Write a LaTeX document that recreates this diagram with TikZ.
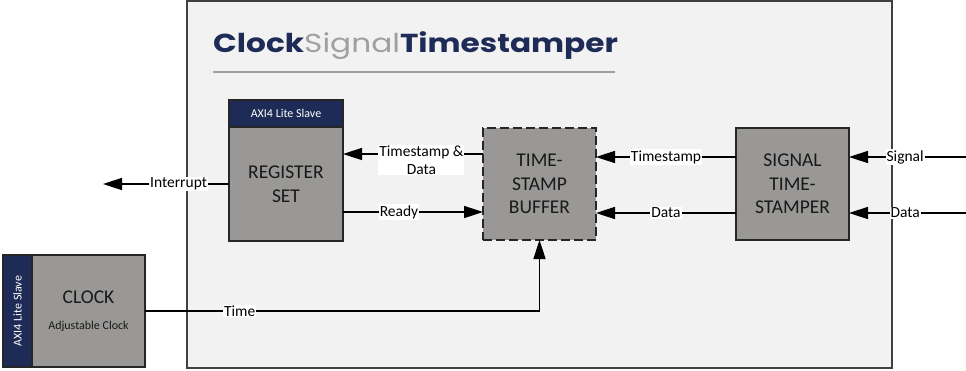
\documentclass[tikz,border=0pt]{standalone}
\usepackage{fontspec}
\setmainfont{Carlito}
\newfontfamily\titlefont{Poppins}[FakeStretch=1.2]
\usetikzlibrary{arrows.meta, positioning, calc}
\definecolor{navyblue}{RGB}{29,43,86}
\definecolor{blockgray}{RGB}{153,152,150}
\definecolor{panelgray}{RGB}{242,242,242}
\definecolor{titlegray}{RGB}{160,160,160}

\tikzset{
  block/.style={draw=black!85, fill=blockgray, line width=2pt, outer sep=0pt,
    minimum width=113pt, minimum height=112pt, align=center, text=black!90,
    font=\fontsize{19.5}{23.5}\selectfont},
  header/.style={draw=black!85, fill=navyblue, line width=2pt, outer sep=0pt,
    text=white, font=\fontsize{12}{14}\selectfont},
  conn/.style={line width=1.6pt, -{Triangle[length=19pt, width=12pt]}},
  lbl/.style={fill=white, inner sep=1pt, align=center,
    font=\fontsize{15.5}{18}\selectfont},
}

\begin{document}
\begin{tikzpicture}[x=1pt, y=-1pt]
  \useasboundingbox (0,0) rectangle (966,370);
  % container with title
  \draw[draw=black!75, fill=panelgray, line width=1.2pt] (187,1) rectangle (892,368);
  \node[anchor=base west, inner sep=0pt, font=\titlefont\fontsize{26}{30}\selectfont] (title) at (213,52)
    {\textcolor{navyblue}{\bfseries Clock}\textcolor{titlegray}{Signal}\textcolor{navyblue}{\bfseries Timestamper}};
  \draw[titlegray, line width=1.2pt] (213,72) -- (615,72);

  % blocks
  \node[block, minimum width=114pt, minimum height=114pt] (reg) at (286,184) {REGISTER\\SET};
  \node[header, minimum width=114pt, minimum height=27pt, above=0pt of reg] (reghead) {AXI4 Lite Slave};
  \node[block, dash pattern=on 9pt off 4pt] (buf) at (539.5,184) {TIME-\\STAMP\\BUFFER};
  \node[block] (sts) at (792.5,184) {SIGNAL\\TIME-\\STAMPER};
  \node[block] (clk) at (88.5,311) {CLOCK\\[2pt]{\fontsize{12}{14}\selectfont Adjustable Clock}};
  \node[header, rotate=90, minimum width=112pt, minimum height=29pt, anchor=south] (clkbar) at (clk.west) {AXI4 Lite Slave};

  % free ends
  \coordinate (irq) at (103,184);
  \coordinate (sigin) at (966,157);
  \coordinate (datain) at (966,213);

  % connectors
  \draw[conn] (reg.west) -- node[lbl, pos=0.4] {Interrupt} (irq);
  \draw[conn] ([yshift=30pt]buf.west) -- node[lbl, pos=0.44, yshift=-6pt] {Timestamp \&\\Data} ([yshift=30pt]reg.east);
  \draw[conn] ([yshift=-28pt]reg.east) -- node[lbl, pos=0.4] {Ready} ([yshift=-28pt]buf.west);
  \draw[conn] ([yshift=27pt]sts.west) -- node[lbl] {Timestamp} ([yshift=27pt]buf.east);
  \draw[conn] ([yshift=-29pt]sts.west) -- node[lbl] {Data} ([yshift=-29pt]buf.east);
  \draw[conn] (sigin) -- node[lbl, pos=0.52] {Signal} (sigin -| sts.east);
  \draw[conn] (datain) -- node[lbl, pos=0.52] {Data} (datain -| sts.east);
  \draw[conn] (clk.east) -| node[lbl, pos=0.12] {Time} (buf.south);
\end{tikzpicture}
\end{document}
